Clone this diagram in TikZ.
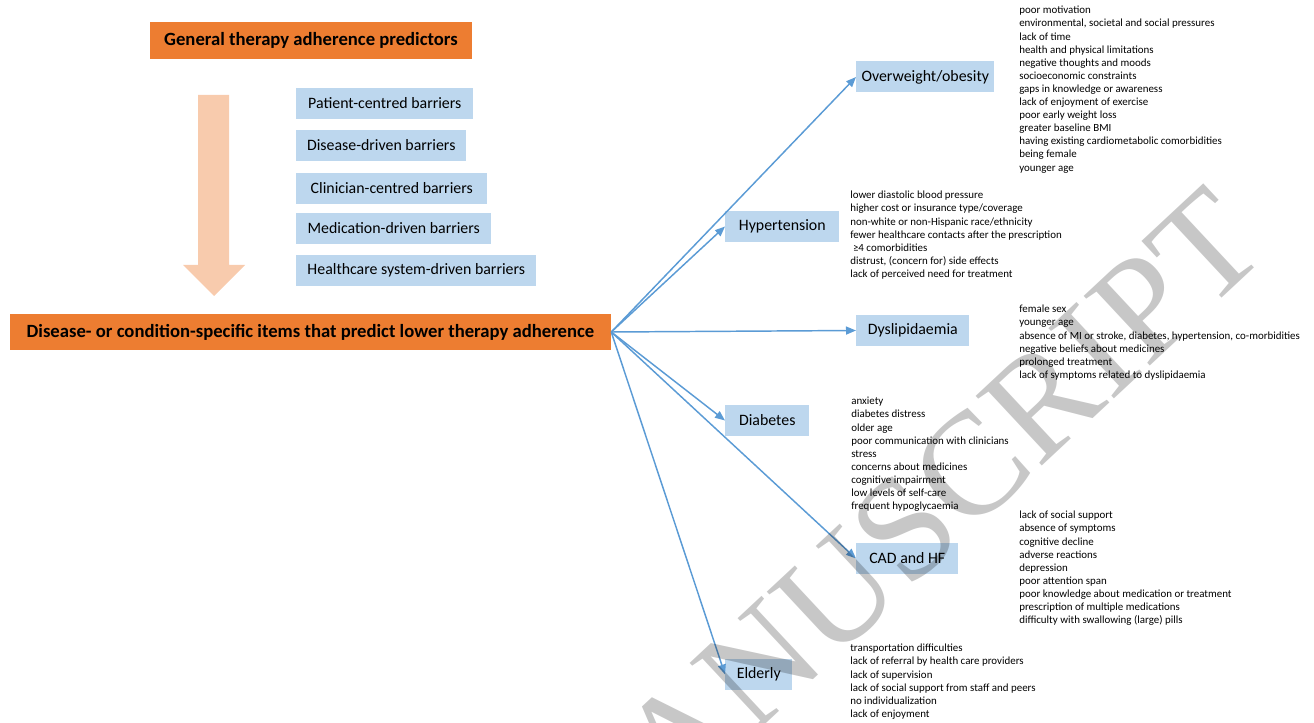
\documentclass[tikz,border=0pt]{standalone}
\usepackage{fontspec}
\setmainfont{Carlito}
\newfontfamily\wmfont{Liberation Serif}
\usetikzlibrary{arrows.meta}
\definecolor{headorange}{HTML}{ED7D31}
\definecolor{boxblue}{HTML}{BDD7EE}
\definecolor{linkblue}{HTML}{5B9BD5}
\definecolor{flowpeach}{HTML}{F8CBAD}

\begin{document}
\begin{tikzpicture}[x=0.75pt, y=-0.75pt,
  header/.style={fill=headorange, inner sep=0pt, minimum height=27.5pt, font=\fontsize{14}{16}\selectfont\bfseries},
  barrier/.style={fill=boxblue, anchor=west, inner sep=0pt, minimum height=23.25pt, minimum width=#1, font=\fontsize{11.9}{14}\selectfont},
  items/.style={anchor=north west, align=left, inner sep=0pt, font=\fontsize{8.2}{9.83}\selectfont},
  link/.style={linkblue, line width=1.1pt, -{Triangle[length=7.5pt,width=6pt]}}]

\useasboundingbox (0,0) rectangle (1314,723);

%headers
\node[header, minimum width=241.5pt] (general) at (311,40.5) {General therapy adherence predictors};
\node[header, minimum width=450.75pt] (specific) at (310.5,332) {Disease- or condition-specific items that predict lower therapy adherence};

%big arrow
\fill[flowpeach] (198,95) -- (229,95) -- (229,265) -- (245,265) -- (214,296) -- (183,265) -- (198,265) -- cycle;

%general barriers
\node[barrier=132.75pt] (patient) at (296,103.5) {Patient-centred barriers};
\node[barrier=127.5pt] (disease) at (296,145.5) {Disease-driven barriers};
\node[barrier=143.25pt] (clinician) at (296,188.5) {Clinician-centred barriers};
\node[barrier=146.25pt] (medication) at (296,228.5) {Medication-driven barriers};
\node[barrier=180pt] (healthsys) at (296,270.5) {Healthcare system-driven barriers};

%conditions
\node[barrier=103.5pt] (obesity) at (856,77) {Overweight/obesity};
\node[barrier=85.5pt] (hypertension) at (725,226.5) {Hypertension};
\node[barrier=84.75pt] (dyslip) at (856,330.5) {Dyslipidaemia};
\node[barrier=63pt] (diabetes) at (725,420.5) {Diabetes};
\node[barrier=76.5pt] (cadhf) at (856,558.5) {CAD and HF};
\node[barrier=50.25pt] (elderly) at (725,674.5) {Elderly};

%arrows
\foreach \c in {obesity,hypertension,dyslip,diabetes,cadhf,elderly}
  \draw[link] (specific.east) -- (\c.west);

%items
\node[items] (obesitylist) at (1019,6) {poor motivation\\environmental, societal and social pressures\\lack of time\\health and physical limitations\\negative thoughts and moods\\socioeconomic constraints\\gaps in knowledge or awareness\\lack of enjoyment of exercise\\poor early weight loss\\greater baseline BMI\\having existing cardiometabolic comorbidities\\being female\\younger age};
\node[items] (hypertensionlist) at (850,191) {lower diastolic blood pressure\\higher cost or insurance type/coverage\\non-white or non-Hispanic race/ethnicity\\fewer healthcare contacts after the prescription\\\hspace*{0.25em}≥4 comorbidities\\distrust, (concern for) side effects\\lack of perceived need for treatment};
\node[items] (dysliplist) at (1019,305) {female sex\\younger age\\absence of MI or stroke, diabetes, hypertension, co-morbidities\\negative beliefs about medicines\\prolonged treatment\\lack of symptoms related to dyslipidaemia};
\node[items] (diabeteslist) at (851,397) {anxiety\\diabetes distress\\older age\\poor communication with clinicians\\stress\\concerns about medicines\\cognitive impairment\\low levels of self-care\\frequent hypoglycaemia};
\node[items] (cadhflist) at (1019,511) {lack of social support\\absence of symptoms\\cognitive decline\\adverse reactions\\depression\\poor attention span\\poor knowledge about medication or treatment\\prescription of multiple medications\\difficulty with swallowing (large) pills};
\node[items] (elderlylist) at (850,644) {transportation difficulties\\lack of referral by health care providers\\lack of supervision\\lack of social support from staff and peers\\no individualization\\lack of enjoyment};

%watermark
\node[rotate=43, text=black, opacity=0.22, inner sep=0pt, font=\wmfont\fontsize{110}{110}\selectfont] (watermark) at (893,540) {MANUSCRIPT};
\end{tikzpicture}
\end{document}
